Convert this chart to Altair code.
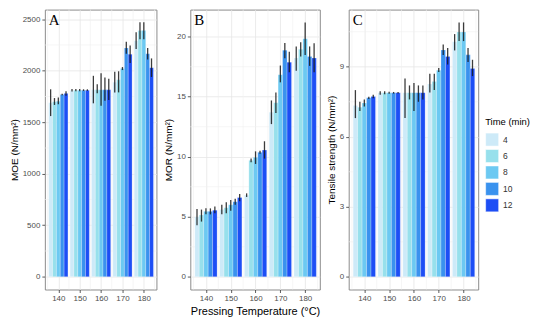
import altair as alt
import pandas as pd

temps = [140, 150, 160, 170, 180]
times = [4, 6, 8, 10, 12]
colors = ["#cdeaf8", "#97e0ec", "#6cc9f2", "#3a92ee", "#1d4ef5"]

# MOE (N/mm2): rows = temperature, columns = time
moe_mean = [[1690, 1700, 1705, 1770, 1780],
            [1810, 1812, 1812, 1812, 1812],
            [1815, 1815, 1815, 1815, 1815],
            [1888, 1912, 2022, 2222, 2160],
            [2292, 2390, 2390, 2165, 2030]]
moe_lo = [[1560, 1668, 1675, 1762, 1758],
          [1798, 1800, 1802, 1804, 1804],
          [1684, 1782, 1660, 1709, 1715],
          [1790, 1790, 2007, 2166, 2076],
          [2211, 2305, 2305, 2110, 1940]]
moe_hi = [[1820, 1735, 1740, 1778, 1800],
          [1822, 1824, 1822, 1820, 1820],
          [1951, 1868, 1975, 1935, 1923],
          [1991, 1995, 2036, 2282, 2245],
          [2374, 2472, 2472, 2220, 2120]]

# MOR (N/mm2)
mor_mean = [[5.0, 5.15, 5.45, 5.45, 5.55],
            [5.6, 5.75, 6.0, 6.25, 6.6],
            [6.8, 9.7, 9.95, 10.37, 10.56],
            [13.7, 14.5, 16.84, 18.88, 17.88],
            [18.22, 18.95, 19.84, 18.35, 18.22]]
mor_lo = [[4.3, 4.6, 5.2, 5.2, 5.3],
          [5.2, 5.3, 5.5, 6.0, 6.3],
          [6.65, 9.55, 9.4, 10.25, 9.85],
          [12.72, 13.64, 16.2, 18.2, 17.04],
          [17.17, 18.35, 18.48, 17.57, 17.04]]
mor_hi = [[5.65, 5.6, 5.7, 5.7, 5.85],
          [6.0, 6.2, 6.4, 6.5, 6.9],
          [6.95, 9.85, 10.45, 10.5, 11.29],
          [14.69, 15.35, 17.6, 19.47, 18.74],
          [19.19, 19.53, 21.18, 19.19, 19.45]]

# Tensile strength (N/mm2)
ts_mean = [[7.34, 7.27, 7.45, 7.67, 7.73],
           [7.89, 7.89, 7.89, 7.89, 7.89],
           [7.89, 7.89, 7.89, 7.89, 7.89],
           [8.26, 8.37, 8.85, 9.72, 9.44],
           [10.07, 10.49, 10.49, 9.51, 8.93]]
ts_lo = [[6.8, 7.1, 7.3, 7.62, 7.65],
         [7.8, 7.82, 7.84, 7.85, 7.85],
         [6.8, 7.6, 7.1, 7.5, 7.6],
         [7.9, 8.0, 8.78, 9.5, 9.1],
         [9.7, 10.1, 10.1, 9.2, 8.6]]
ts_hi = [[8.0, 7.5, 7.6, 7.72, 7.8],
         [7.95, 7.95, 7.93, 7.92, 7.92],
         [8.5, 8.2, 8.3, 8.2, 8.2],
         [8.7, 8.7, 8.95, 9.95, 9.8],
         [10.4, 10.9, 10.9, 9.8, 9.3]]

x_ticks = [140, 150, 160, 170, 180]
x_minor = [135, 145, 155, 165, 175, 185]

PH = 281


def long_df(mean, lo, hi):
    rows = []
    for i, t in enumerate(temps):
        for j, m in enumerate(times):
            rows.append({"temp": t, "time": m, "mean": mean[i][j],
                         "lo": lo[i][j], "hi": hi[i][j]})
    return pd.DataFrame(rows)


xscale = alt.Scale(domain=[133.7, 185.9], nice=False, zero=False)
cscale = alt.Scale(domain=times, range=colors)
legend = alt.Legend(title="Time (min)", orient="none", legendX=442, legendY=108,
                    symbolType="square", symbolSize=170, symbolStrokeWidth=0.5,
                    symbolStrokeColor="white", symbolOpacity=1,
                    titleFontSize=9.5, titleFontWeight="normal",
                    titleColor="black", labelFontSize=8.5, labelColor="#333",
                    rowPadding=0.5, titlePadding=6, labelOffset=4)


def panel(mean, lo, hi, ydomain, yticks, yminor, ytitle, letter, width, xtitle=None):
    df = long_df(mean, lo, hi)
    base = alt.Chart(df).transform_calculate(
        xc="datum.temp + (datum.time - 8) * 0.9",
        x1="datum.temp + (datum.time - 8) * 0.9 - 0.9",
        x2="datum.temp + (datum.time - 8) * 0.9 + 0.9",
    )
    yscale = alt.Scale(domain=ydomain, nice=False, zero=False)
    xaxis = alt.Axis(values=x_ticks, grid=True, title=xtitle, format="d", labelOverlap=False)
    yaxis = alt.Axis(values=yticks, grid=True, title=ytitle, format="d", labelOverlap=False)

    minor_x = alt.Chart(pd.DataFrame({"v": x_minor})).mark_rule(
        color="#f0f0f0", strokeWidth=0.6).encode(x=alt.X("v:Q", scale=xscale, axis=xaxis))
    minor_y = alt.Chart(pd.DataFrame({"v": yminor})).mark_rule(
        color="#f0f0f0", strokeWidth=0.6).encode(y=alt.Y("v:Q", scale=yscale, axis=yaxis))

    bars = base.mark_bar(stroke="white", strokeWidth=0.4, strokeOpacity=0.6, opacity=1).encode(
        x=alt.X("x1:Q", scale=xscale, axis=xaxis),
        x2="x2:Q",
        y=alt.Y("mean:Q", scale=yscale, axis=yaxis),
        y2=alt.datum(0),
        color=alt.Color("time:O", scale=cscale, legend=legend),
    )
    err = base.mark_rule(color="#1a1a1a", strokeWidth=1.3, opacity=0.85).encode(
        x=alt.X("xc:Q", scale=xscale, axis=xaxis),
        y=alt.Y("lo:Q", scale=yscale, axis=yaxis),
        y2="hi:Q",
    )
    lab = alt.Chart(pd.DataFrame({"t": [letter]})).mark_text(
        font="Liberation Serif", fontSize=15, align="left", baseline="top", color="black"
    ).encode(text="t:N", x=alt.value(4), y=alt.value(3))
    return alt.layer(minor_x, minor_y, bars, err, lab).properties(width=width, height=PH)


pA = panel(moe_mean, moe_lo, moe_hi, [-124, 2594], [0, 500, 1000, 1500, 2000, 2500],
           [250, 750, 1250, 1750, 2250], "MOE (N/mm²)", "A", 112)
pB = panel(mor_mean, mor_lo, mor_hi, [-1.06, 22.26], [0, 5, 10, 15, 20],
           [2.5, 7.5, 12.5, 17.5], "MOR (N/mm²)", "B", 130,
           xtitle="Pressing Temperature (°C)")
pC = panel(ts_mean, ts_lo, ts_hi, [-0.545, 11.45], [0, 3, 6, 9],
           [1.5, 4.5, 7.5, 10.5], "Tensile strength (N/mm²)", "C", 130)

chart = alt.hconcat(pA, pB, pC, spacing=5).resolve_scale(color="shared").properties(
    padding={"left": 0, "top": 0, "right": 0, "bottom": 0}, background="white"
).configure_view(
    stroke="#8c8c8c", strokeWidth=1
).configure_axis(
    domain=False, tickColor="#333", tickSize=3, tickWidth=0.8,
    labelColor="#4d4d4d", labelFontSize=8, labelFont="Liberation Sans", labelPadding=2,
    titleFont="Liberation Sans", titleFontSize=10, titleFontWeight="normal", titleColor="black",
    gridColor="#e6e6e6", gridWidth=0.8, titlePadding=3, labelOverlap=False
).configure_axisX(titleFontSize=11, titlePadding=3, labelOverlap=False).configure_legend(
    titleFont="Liberation Sans", labelFont="Liberation Sans"
)

chart.save("out.html", embed_options={"renderer": "svg", "actions": False})
